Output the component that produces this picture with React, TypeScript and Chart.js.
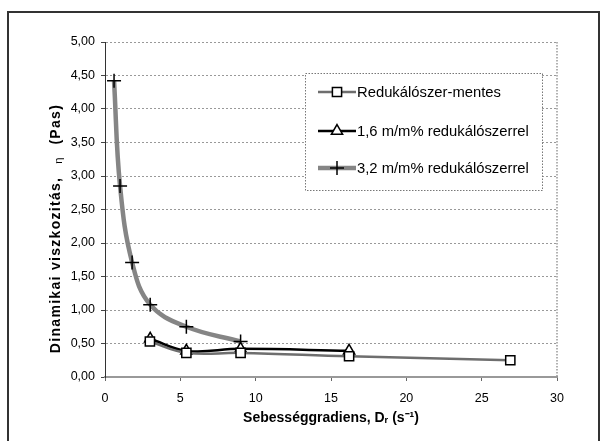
import React, { useEffect, useRef } from 'react';
import { Chart, registerables } from 'chart.js';

Chart.register(...registerables);

// ---- data ----
const seriesNames = ['Redukálószer-mentes', '1,6 m/m% redukálószerrel', '3,2 m/m% redukálószerrel'];
const s1X = [2.98, 5.4, 9.0, 16.2, 26.9];
const s1Y = [0.53, 0.36, 0.36, 0.31, 0.25];
const s2X = [3.0, 5.4, 9.0, 16.2];
const s2Y = [0.57, 0.39, 0.42, 0.39];
const s3X = [0.6, 1.0, 1.8, 3.0, 5.4, 9.0];
const s3Y = [4.42, 2.85, 1.71, 1.08, 0.75, 0.53];
const xTickLabels = ['0', '5', '10', '15', '20', '25', '30'];
const yTickLabels = ['0,00', '0,50', '1,00', '1,50', '2,00', '2,50', '3,00', '3,50', '4,00', '4,50', '5,00'];
const xTitle = 'Sebességgradiens, Dᵣ (s⁻¹)';
const yTitleMain = 'Dinamikai viszkozitás,';
const yTitleSym = 'η';
const yTitleUnit = '(Pas)';

const FONT = '"Liberation Sans", Arial, sans-serif';

const toPts = (xs: number[], ys: number[]) => xs.map((x, i) => ({ x, y: ys[i] }));

function drawMarker(ctx: CanvasRenderingContext2D, style: string, x: number, y: number, r: number, bw: number) {
  ctx.save();
  ctx.lineWidth = bw;
  ctx.strokeStyle = '#000';
  ctx.fillStyle = '#fff';
  ctx.setLineDash([]);
  ctx.beginPath();
  if (style === 'rect') {
    const s = r * Math.SQRT1_2;
    ctx.rect(x - s, y - s, 2 * s, 2 * s);
    ctx.fill();
    ctx.stroke();
  } else if (style === 'triangle') {
    const a = -Math.PI / 2;
    for (let k = 0; k < 3; k++) {
      const ang = a + (k * 2 * Math.PI) / 3;
      const px = x + Math.cos(ang) * r;
      const py = y + Math.sin(ang) * r;
      if (k === 0) ctx.moveTo(px, py);
      else ctx.lineTo(px, py);
    }
    ctx.closePath();
    ctx.fill();
    ctx.stroke();
  } else {
    ctx.moveTo(x - r, y);
    ctx.lineTo(x + r, y);
    ctx.moveTo(x, y - r);
    ctx.lineTo(x, y + r);
    ctx.stroke();
  }
  ctx.restore();
}

const bgPlugin = {
  id: 'bg',
  beforeDraw(chart: any) {
    const ctx = chart.ctx;
    ctx.save();
    ctx.fillStyle = '#fff';
    ctx.fillRect(0, 0, chart.width, chart.height);
    ctx.restore();
  },
};

const framePlugin = {
  id: 'frame',
  beforeDatasetsDraw(chart: any) {
    const { ctx, chartArea } = chart;
    ctx.save();
    ctx.strokeStyle = '#999';
    ctx.lineWidth = 1.5;
    ctx.setLineDash([1.5, 1.5]);
    ctx.beginPath();
    ctx.moveTo(chartArea.right, chartArea.top);
    ctx.lineTo(chartArea.right, chartArea.bottom);
    ctx.stroke();
    ctx.restore();
  },
  afterDraw(chart: any) {
    const ctx = chart.ctx;
    ctx.save();
    // outer frame
    ctx.strokeStyle = '#333';
    ctx.lineWidth = 2;
    ctx.strokeRect(8, 12, 591, 520);

    // y title
    ctx.translate(56, 228.5);
    ctx.rotate(-Math.PI / 2);
    ctx.fillStyle = '#000';
    ctx.textBaseline = 'middle';
    ctx.textAlign = 'left';
    const bold = `bold 14px ${FONT}`;
    const small = `11px ${FONT}`;
    ctx.font = bold;
    (ctx as any).letterSpacing = '1.3px';
    const w1 = ctx.measureText(yTitleMain).width;
    const w3 = ctx.measureText(yTitleUnit).width;
    ctx.font = small;
    (ctx as any).letterSpacing = '0px';
    const w2 = ctx.measureText(yTitleSym).width;
    const gap = 13;
    const total = w1 + gap + w2 + gap + w3;
    let x = -total / 2;
    ctx.font = bold;
    (ctx as any).letterSpacing = '1.3px';
    ctx.fillText(yTitleMain, x, 0);
    x += w1 + gap;
    ctx.font = small;
    (ctx as any).letterSpacing = '0px';
    ctx.fillText(yTitleSym, x, 2.5);
    x += w2 + gap;
    ctx.font = bold;
    (ctx as any).letterSpacing = '1.3px';
    ctx.fillText(yTitleUnit, x, 0);
    ctx.restore();

    // legend
    const lx = 305, ly = 73, lw = 237, lh = 117;
    ctx.save();
    ctx.fillStyle = '#fff';
    ctx.fillRect(lx, ly, lw, lh);
    ctx.strokeStyle = '#777';
    ctx.lineWidth = 1;
    ctx.setLineDash([1.5, 1.5]);
    ctx.strokeRect(lx + 0.5, ly + 0.5, lw, lh);
    ctx.setLineDash([]);
    const rows = [92, 131, 168];
    chart.data.datasets.forEach((ds: any, i: number) => {
      const y = rows[i];
      ctx.strokeStyle = ds.borderColor;
      ctx.lineWidth = ds.borderWidth;
      ctx.beginPath();
      ctx.moveTo(318, y);
      ctx.lineTo(356, y);
      ctx.stroke();
      drawMarker(ctx, ds.pointStyle, 337, y, ds.pointRadius, ds.pointBorderWidth);
      ctx.fillStyle = '#000';
      ctx.font = `14.8px ${FONT}`;
      ctx.textBaseline = 'middle';
      ctx.textAlign = 'left';
      ctx.fillText(ds.label, 357, y + 0.5);
    });
    ctx.restore();
  },
};

export default function App() {
  const ref = useRef<HTMLCanvasElement | null>(null);
  useEffect(() => {
    document.body.style.margin = '0';
    const canvas = ref.current;
    if (!canvas) return;
    const chart = new Chart(canvas, {
      type: 'line',
      data: {
        datasets: [
          {
            label: seriesNames[0],
            data: toPts(s1X, s1Y),
            borderColor: '#6e6e6e',
            borderWidth: 2.5,
            tension: 0.4,
            pointStyle: 'rect',
            pointRadius: 6.5,
            pointBorderWidth: 1.5,
            pointBorderColor: '#000',
            pointBackgroundColor: '#fff',
          },
          {
            label: seriesNames[1],
            data: toPts(s2X, s2Y),
            borderColor: '#000',
            borderWidth: 2.5,
            tension: 0.4,
            pointStyle: 'triangle',
            pointRadius: 6.5,
            pointBorderWidth: 1.5,
            pointBorderColor: '#000',
            pointBackgroundColor: '#fff',
          },
          {
            label: seriesNames[2],
            data: toPts(s3X, s3Y),
            borderColor: '#858585',
            borderWidth: 4.5,
            tension: 0.4,
            pointStyle: 'cross',
            pointRadius: 7,
            pointBorderWidth: 1.5,
            pointBorderColor: '#000',
            pointBackgroundColor: '#000',
          },
        ],
      } as any,
      options: {
        animation: false,
        responsive: false,
        devicePixelRatio: 1,
        layout: { padding: { left: 0, top: 42, right: 50, bottom: 0 } },
        plugins: { legend: { display: false }, tooltip: { enabled: false } },
        scales: {
          x: {
            type: 'linear',
            min: 0,
            max: 30,
            ticks: {
              stepSize: 5,
              padding: 10,
              color: '#000',
              font: { family: FONT, size: 12.5 },
              callback: (_v: any, i: number) => xTickLabels[i],
            },
            grid: { drawOnChartArea: false, drawTicks: true, tickLength: 4, color: '#666' },
            border: { display: true, color: '#999', width: 2, dash: [2, 1] },
            title: {
              display: true,
              text: xTitle,
              color: '#000',
              font: { family: FONT, size: 14, weight: 'bold' },
              padding: { top: 0, bottom: 14 },
            },
            afterFit: (s: any) => {
              s.height = 64;
            },
          },
          y: {
            type: 'linear',
            min: 0,
            max: 5,
            ticks: {
              stepSize: 0.5,
              padding: 6,
              color: '#000',
              font: { family: FONT, size: 12.5 },
              callback: (_v: any, i: number) => yTickLabels[i],
            },
            grid: { color: '#999', lineWidth: 1, drawTicks: true, tickLength: 4, tickColor: '#444' },
            border: { display: true, color: '#333', width: 1, dash: [2, 2] },
            afterFit: (s: any) => {
              s.width = 105;
            },
          },
        },
      } as any,
      plugins: [bgPlugin, framePlugin],
    });
    return () => chart.destroy();
  }, []);
  return (
    <div style={{ width: 607, height: 441 }}>
      <canvas ref={ref} width={607} height={441} style={{ display: 'block' }} />
    </div>
  );
}
